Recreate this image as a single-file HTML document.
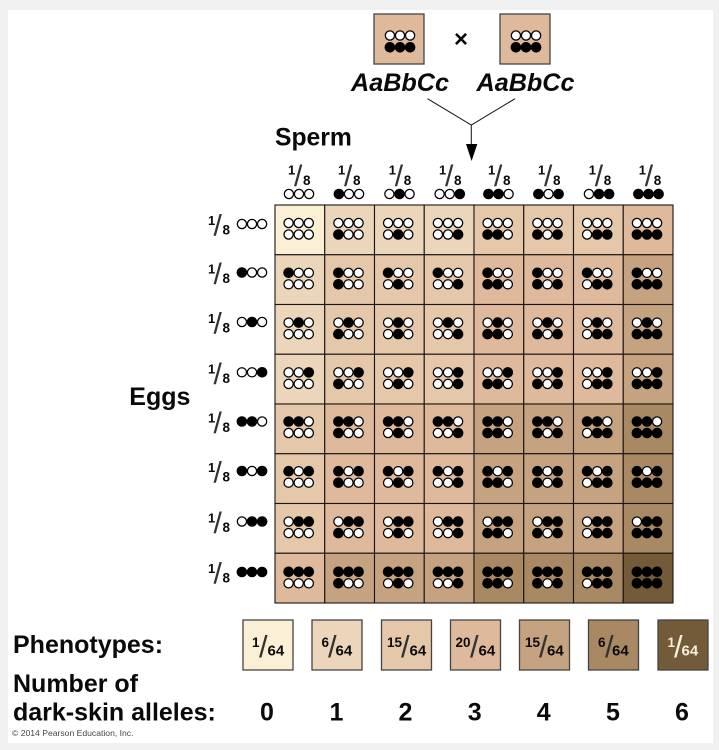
<!DOCTYPE html>
<html><head><meta charset="utf-8"><style>
html,body{margin:0;padding:0;background:#f0f0f0;width:719px;height:750px;overflow:hidden}
svg{display:block;filter:blur(.3px)}
text{font-family:"Liberation Sans",sans-serif;font-weight:700;fill:#0a0a0a}
.big{font-size:25px}
.n{font-size:13px}.d{font-size:13.5px}.s{font-size:30px;font-weight:400;fill:#333}
.ln{font-size:13.5px}.ld{font-size:15px}
.r rect{width:49.75px;height:49.75px;stroke:#1a1512;stroke-width:1.1}
.c0{fill:#fbf0d6}.c1{fill:#ecd6bb}.c2{fill:#e5c8aa}.c3{fill:#deb99c}.c4{fill:#c5a280}.c5{fill:#a88964}.c6{fill:#735a39}
.l{stroke:#444;stroke-width:1.3;width:50px;height:50px}
.b{fill:#000}.w{fill:#fff;stroke:#000;stroke-width:1.25}
</style></head><body>
<svg width="719" height="750" viewBox="0 0 719 750" xmlns="http://www.w3.org/2000/svg">
<defs>
<g id="t0"><circle class="w" cx="-10.1" r="4.6"/><circle class="w" cx="0" r="4.6"/><circle class="w" cx="10.1" r="4.6"/></g>
<g id="t1"><circle class="b" cx="-10.1" r="5.3"/><circle class="w" cx="0" r="4.6"/><circle class="w" cx="10.1" r="4.6"/></g>
<g id="t2"><circle class="w" cx="-10.1" r="4.6"/><circle class="b" cx="0" r="5.3"/><circle class="w" cx="10.1" r="4.6"/></g>
<g id="t3"><circle class="w" cx="-10.1" r="4.6"/><circle class="w" cx="0" r="4.6"/><circle class="b" cx="10.1" r="5.3"/></g>
<g id="t4"><circle class="b" cx="-10.1" r="5.3"/><circle class="b" cx="0" r="5.3"/><circle class="w" cx="10.1" r="4.6"/></g>
<g id="t5"><circle class="b" cx="-10.1" r="5.3"/><circle class="w" cx="0" r="4.6"/><circle class="b" cx="10.1" r="5.3"/></g>
<g id="t6"><circle class="w" cx="-10.1" r="4.6"/><circle class="b" cx="0" r="5.3"/><circle class="b" cx="10.1" r="5.3"/></g>
<g id="t7"><circle class="b" cx="-10.1" r="5.3"/><circle class="b" cx="0" r="5.3"/><circle class="b" cx="10.1" r="5.3"/></g>
</defs>

<rect x="8" y="10" width="705" height="733" fill="#fff"/>

<!-- parents -->
<rect x="374" y="14" width="50" height="50" fill="#deb99c" stroke="#444" stroke-width="1.3"/>
<rect x="500" y="14" width="50" height="50" fill="#deb99c" stroke="#444" stroke-width="1.3"/>
<use href="#t0" x="400" y="35.5"/><use href="#t7" x="400" y="47.3"/>
<use href="#t0" x="526" y="35.5"/><use href="#t7" x="526" y="47.3"/>
<text x="461" y="47" font-size="24" text-anchor="middle">×</text>
<text x="351" y="91" class="big" font-style="italic" style="font-size:25.2px">AaBbCc</text>
<text x="476.5" y="91" class="big" font-style="italic" style="font-size:25.2px">AaBbCc</text>
<path d="M427.5 98.7L471.3 125L515 98.7M471.3 125V146" fill="none" stroke="#111" stroke-width="1"/>
<path d="M466 144H477.3L471.6 161Z" fill="#000"/>

<text x="275" y="145.5" class="big" style="font-size:24.7px">Sperm</text>
<text x="129.3" y="405" class="big">Eggs</text>

<!-- sperm header -->
<text><tspan class="n" x="288" y="174.5">1</tspan><tspan class="s" x="294" y="186">/</tspan><tspan class="d" x="303" y="185">8</tspan></text>
<text><tspan class="n" x="338" y="174.5">1</tspan><tspan class="s" x="344" y="186">/</tspan><tspan class="d" x="353" y="185">8</tspan></text>
<text><tspan class="n" x="388.7" y="174.5">1</tspan><tspan class="s" x="394.7" y="186">/</tspan><tspan class="d" x="403.7" y="185">8</tspan></text>
<text><tspan class="n" x="439" y="174.5">1</tspan><tspan class="s" x="445" y="186">/</tspan><tspan class="d" x="454" y="185">8</tspan></text>
<text><tspan class="n" x="488" y="174.5">1</tspan><tspan class="s" x="494" y="186">/</tspan><tspan class="d" x="503" y="185">8</tspan></text>
<text><tspan class="n" x="538" y="174.5">1</tspan><tspan class="s" x="544" y="186">/</tspan><tspan class="d" x="553" y="185">8</tspan></text>
<text><tspan class="n" x="588.7" y="174.5">1</tspan><tspan class="s" x="594.7" y="186">/</tspan><tspan class="d" x="603.7" y="185">8</tspan></text>
<text><tspan class="n" x="638.7" y="174.5">1</tspan><tspan class="s" x="644.7" y="186">/</tspan><tspan class="d" x="653.7" y="185">8</tspan></text>
<use href="#t0" x="299" y="194"/><use href="#t1" x="349" y="194"/><use href="#t2" x="399.5" y="194"/><use href="#t3" x="449.7" y="194"/>
<use href="#t4" x="498.5" y="194"/><use href="#t5" x="548.5" y="194"/><use href="#t6" x="599" y="194"/><use href="#t7" x="648.5" y="194"/>

<!-- egg labels -->
<text><tspan class="n" x="208" y="225">1</tspan><tspan class="s" x="213.5" y="235.5">/</tspan><tspan class="d" x="222.5" y="234.5">8</tspan></text>
<text><tspan class="n" x="208" y="273.5">1</tspan><tspan class="s" x="213.5" y="284">/</tspan><tspan class="d" x="222.5" y="283">8</tspan></text>
<text><tspan class="n" x="208" y="323">1</tspan><tspan class="s" x="213.5" y="333.5">/</tspan><tspan class="d" x="222.5" y="332.5">8</tspan></text>
<text><tspan class="n" x="208" y="373.3">1</tspan><tspan class="s" x="213.5" y="383.8">/</tspan><tspan class="d" x="222.5" y="382.8">8</tspan></text>
<text><tspan class="n" x="208" y="422.5">1</tspan><tspan class="s" x="213.5" y="433">/</tspan><tspan class="d" x="222.5" y="432">8</tspan></text>
<text><tspan class="n" x="208" y="472">1</tspan><tspan class="s" x="213.5" y="482.5">/</tspan><tspan class="d" x="222.5" y="481.5">8</tspan></text>
<text><tspan class="n" x="208" y="522.5">1</tspan><tspan class="s" x="213.5" y="533">/</tspan><tspan class="d" x="222.5" y="532">8</tspan></text>
<text><tspan class="n" x="208" y="573">1</tspan><tspan class="s" x="213.5" y="583.5">/</tspan><tspan class="d" x="222.5" y="582.5">8</tspan></text>
<use href="#t0" x="252" y="224"/><use href="#t1" x="252" y="272.5"/><use href="#t2" x="252" y="322"/><use href="#t3" x="252" y="372.3"/>
<use href="#t4" x="252" y="421.5"/><use href="#t5" x="252" y="471"/><use href="#t6" x="252" y="521.5"/><use href="#t7" x="252" y="572"/>

<!-- grid cells -->
<g class="r" transform="translate(0,205)"><rect class="c0" x="275"/><rect class="c1" x="324.75"/><rect class="c1" x="374.5"/><rect class="c1" x="424.25"/><rect class="c2" x="474"/><rect class="c2" x="523.75"/><rect class="c2" x="573.5"/><rect class="c3" x="623.25"/></g>
<g class="r" transform="translate(0,254.75)"><rect class="c1" x="275"/><rect class="c2" x="324.75"/><rect class="c2" x="374.5"/><rect class="c2" x="424.25"/><rect class="c3" x="474"/><rect class="c3" x="523.75"/><rect class="c3" x="573.5"/><rect class="c4" x="623.25"/></g>
<g class="r" transform="translate(0,304.5)"><rect class="c1" x="275"/><rect class="c2" x="324.75"/><rect class="c2" x="374.5"/><rect class="c2" x="424.25"/><rect class="c3" x="474"/><rect class="c3" x="523.75"/><rect class="c3" x="573.5"/><rect class="c4" x="623.25"/></g>
<g class="r" transform="translate(0,354.25)"><rect class="c1" x="275"/><rect class="c2" x="324.75"/><rect class="c2" x="374.5"/><rect class="c2" x="424.25"/><rect class="c3" x="474"/><rect class="c3" x="523.75"/><rect class="c3" x="573.5"/><rect class="c4" x="623.25"/></g>
<g class="r" transform="translate(0,404)"><rect class="c2" x="275"/><rect class="c3" x="324.75"/><rect class="c3" x="374.5"/><rect class="c3" x="424.25"/><rect class="c4" x="474"/><rect class="c4" x="523.75"/><rect class="c4" x="573.5"/><rect class="c5" x="623.25"/></g>
<g class="r" transform="translate(0,453.75)"><rect class="c2" x="275"/><rect class="c3" x="324.75"/><rect class="c3" x="374.5"/><rect class="c3" x="424.25"/><rect class="c4" x="474"/><rect class="c4" x="523.75"/><rect class="c4" x="573.5"/><rect class="c5" x="623.25"/></g>
<g class="r" transform="translate(0,503.5)"><rect class="c2" x="275"/><rect class="c3" x="324.75"/><rect class="c3" x="374.5"/><rect class="c3" x="424.25"/><rect class="c4" x="474"/><rect class="c4" x="523.75"/><rect class="c4" x="573.5"/><rect class="c5" x="623.25"/></g>
<g class="r" transform="translate(0,553.25)"><rect class="c3" x="275"/><rect class="c4" x="324.75"/><rect class="c4" x="374.5"/><rect class="c4" x="424.25"/><rect class="c5" x="474"/><rect class="c5" x="523.75"/><rect class="c5" x="573.5"/><rect class="c6" x="623.25"/></g>

<!-- top line of each cell: egg allele pattern -->
<g id="rows">
<g transform="translate(0,223)"><use href="#t0" x="298.7"/><use href="#t0" x="348.5"/><use href="#t0" x="398.2"/><use href="#t0" x="448"/><use href="#t0" x="497.7"/><use href="#t0" x="547.5"/><use href="#t0" x="597.2"/><use href="#t0" x="647"/></g>
<g transform="translate(0,272.8)"><use href="#t1" x="298.7"/><use href="#t1" x="348.5"/><use href="#t1" x="398.2"/><use href="#t1" x="448"/><use href="#t1" x="497.7"/><use href="#t1" x="547.5"/><use href="#t1" x="597.2"/><use href="#t1" x="647"/></g>
<g transform="translate(0,322.6)"><use href="#t2" x="298.7"/><use href="#t2" x="348.5"/><use href="#t2" x="398.2"/><use href="#t2" x="448"/><use href="#t2" x="497.7"/><use href="#t2" x="547.5"/><use href="#t2" x="597.2"/><use href="#t2" x="647"/></g>
<g transform="translate(0,372.4)"><use href="#t3" x="298.7"/><use href="#t3" x="348.5"/><use href="#t3" x="398.2"/><use href="#t3" x="448"/><use href="#t3" x="497.7"/><use href="#t3" x="547.5"/><use href="#t3" x="597.2"/><use href="#t3" x="647"/></g>
<g transform="translate(0,421.5)"><use href="#t4" x="298.7"/><use href="#t4" x="348.5"/><use href="#t4" x="398.2"/><use href="#t4" x="448"/><use href="#t4" x="497.7"/><use href="#t4" x="547.5"/><use href="#t4" x="597.2"/><use href="#t4" x="647"/></g>
<g transform="translate(0,471.2)"><use href="#t5" x="298.7"/><use href="#t5" x="348.5"/><use href="#t5" x="398.2"/><use href="#t5" x="448"/><use href="#t5" x="497.7"/><use href="#t5" x="547.5"/><use href="#t5" x="597.2"/><use href="#t5" x="647"/></g>
<g transform="translate(0,521.6)"><use href="#t6" x="298.7"/><use href="#t6" x="348.5"/><use href="#t6" x="398.2"/><use href="#t6" x="448"/><use href="#t6" x="497.7"/><use href="#t6" x="547.5"/><use href="#t6" x="597.2"/><use href="#t6" x="647"/></g>
<g transform="translate(0,571.8)"><use href="#t7" x="298.7"/><use href="#t7" x="348.5"/><use href="#t7" x="398.2"/><use href="#t7" x="448"/><use href="#t7" x="497.7"/><use href="#t7" x="547.5"/><use href="#t7" x="597.2"/><use href="#t7" x="647"/></g>
</g>
<!-- bottom line of each cell: sperm allele pattern -->
<g transform="translate(298.7,0)"><use href="#t0" y="234.5"/><use href="#t0" y="284.3"/><use href="#t0" y="334.1"/><use href="#t0" y="383.9"/><use href="#t0" y="433"/><use href="#t0" y="482.7"/><use href="#t0" y="533.1"/><use href="#t0" y="583.3"/></g>
<g transform="translate(348.5,0)"><use href="#t1" y="234.5"/><use href="#t1" y="284.3"/><use href="#t1" y="334.1"/><use href="#t1" y="383.9"/><use href="#t1" y="433"/><use href="#t1" y="482.7"/><use href="#t1" y="533.1"/><use href="#t1" y="583.3"/></g>
<g transform="translate(398.2,0)"><use href="#t2" y="234.5"/><use href="#t2" y="284.3"/><use href="#t2" y="334.1"/><use href="#t2" y="383.9"/><use href="#t2" y="433"/><use href="#t2" y="482.7"/><use href="#t2" y="533.1"/><use href="#t2" y="583.3"/></g>
<g transform="translate(448,0)"><use href="#t3" y="234.5"/><use href="#t3" y="284.3"/><use href="#t3" y="334.1"/><use href="#t3" y="383.9"/><use href="#t3" y="433"/><use href="#t3" y="482.7"/><use href="#t3" y="533.1"/><use href="#t3" y="583.3"/></g>
<g transform="translate(497.7,0)"><use href="#t4" y="234.5"/><use href="#t4" y="284.3"/><use href="#t4" y="334.1"/><use href="#t4" y="383.9"/><use href="#t4" y="433"/><use href="#t4" y="482.7"/><use href="#t4" y="533.1"/><use href="#t4" y="583.3"/></g>
<g transform="translate(547.5,0)"><use href="#t5" y="234.5"/><use href="#t5" y="284.3"/><use href="#t5" y="334.1"/><use href="#t5" y="383.9"/><use href="#t5" y="433"/><use href="#t5" y="482.7"/><use href="#t5" y="533.1"/><use href="#t5" y="583.3"/></g>
<g transform="translate(597.2,0)"><use href="#t6" y="234.5"/><use href="#t6" y="284.3"/><use href="#t6" y="334.1"/><use href="#t6" y="383.9"/><use href="#t6" y="433"/><use href="#t6" y="482.7"/><use href="#t6" y="533.1"/><use href="#t6" y="583.3"/></g>
<g transform="translate(647,0)"><use href="#t7" y="234.5"/><use href="#t7" y="284.3"/><use href="#t7" y="334.1"/><use href="#t7" y="383.9"/><use href="#t7" y="433"/><use href="#t7" y="482.7"/><use href="#t7" y="533.1"/><use href="#t7" y="583.3"/></g>

<!-- legend -->
<rect class="l c0" x="243" y="620"/><rect class="l c1" x="312" y="620"/><rect class="l c2" x="381.5" y="620"/><rect class="l c3" x="450.5" y="620"/><rect class="l c4" x="519.5" y="620"/><rect class="l c5" x="588.5" y="620"/><rect class="l c6" x="658" y="620"/>
<text><tspan class="ln" x="252" y="647">1</tspan><tspan class="s" x="259" y="657" style="font-size:31px">/</tspan><tspan class="ld" x="267.5" y="655.5">64</tspan></text>
<text><tspan class="ln" x="321.5" y="647">6</tspan><tspan class="s" x="328" y="657" style="font-size:31px">/</tspan><tspan class="ld" x="335.5" y="655.5">64</tspan></text>
<text><tspan class="ln" x="387" y="647">15</tspan><tspan class="s" x="401" y="657" style="font-size:31px">/</tspan><tspan class="ld" x="409.5" y="655.5">64</tspan></text>
<text><tspan class="ln" x="455.5" y="647">20</tspan><tspan class="s" x="470" y="657" style="font-size:31px">/</tspan><tspan class="ld" x="478.5" y="655.5">64</tspan></text>
<text><tspan class="ln" x="525" y="647">15</tspan><tspan class="s" x="539" y="657" style="font-size:31px">/</tspan><tspan class="ld" x="547" y="655.5">64</tspan></text>
<text><tspan class="ln" x="598" y="647">6</tspan><tspan class="s" x="605" y="657" style="font-size:31px">/</tspan><tspan class="ld" x="612" y="655.5">64</tspan></text>
<text style="fill:#f6efe0"><tspan class="ln" x="667.5" y="647" style="fill:#f6efe0">1</tspan><tspan class="s" x="674" y="657" style="font-size:31px;fill:#f6efe0">/</tspan><tspan class="ld" x="681.5" y="655.5" style="fill:#f6efe0">64</tspan></text>

<text x="13" y="653" class="big">Phenotypes:</text>
<text x="13" y="692" class="big">Number of</text>
<text x="13" y="720.7" class="big">dark-skin alleles:</text>
<g class="big" text-anchor="middle">
<text x="267" y="720.7" class="big">0</text><text x="336.5" y="720.7" class="big">1</text><text x="405.5" y="720.7" class="big">2</text><text x="474.7" y="720.7" class="big">3</text><text x="543.7" y="720.7" class="big">4</text><text x="613" y="720.7" class="big">5</text><text x="682" y="720.7" class="big">6</text>
</g>
<text x="12" y="736" style="font-size:8.6px;font-weight:400;fill:#444">© 2014 Pearson Education, Inc.</text>
</svg>
</body></html>
